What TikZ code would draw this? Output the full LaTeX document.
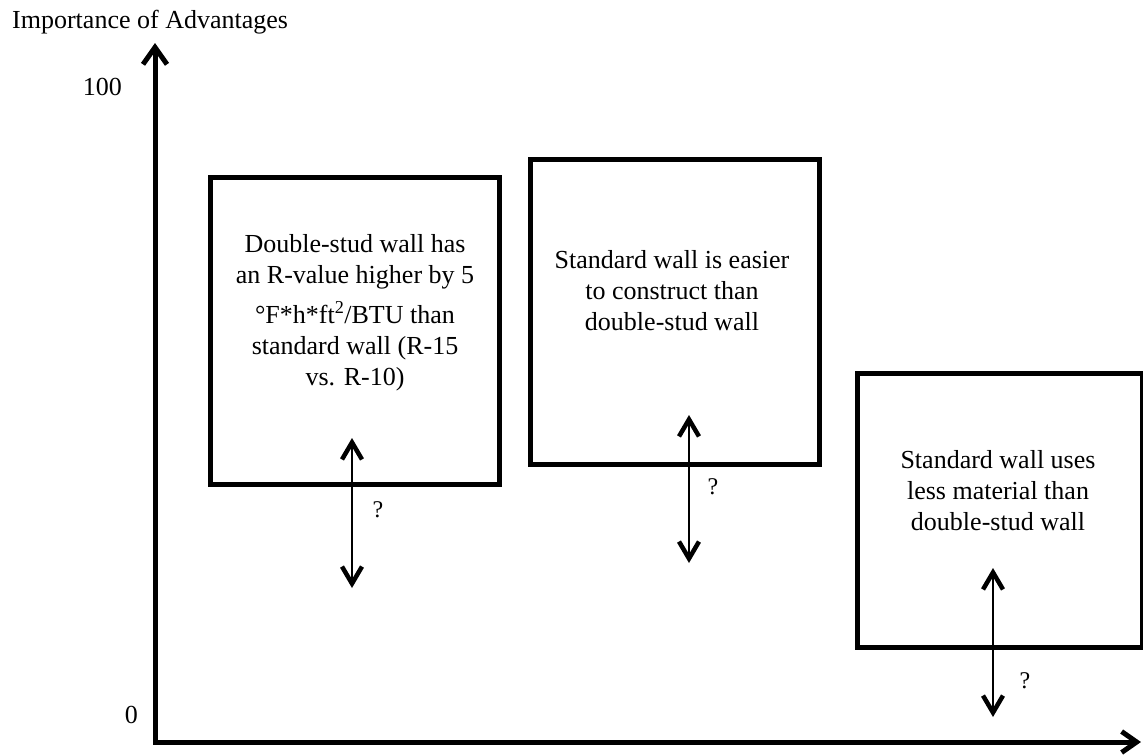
\documentclass[tikz,border=0pt]{standalone}
\usepackage{fontspec}
\setmainfont{Liberation Serif}
\usetikzlibrary{arrows.meta}
\tikzset{
  lbl/.style={inner sep=0pt, font=\fontsize{26}{31}\selectfont},
  boxtext/.style={inner sep=0pt, align=center, font=\fontsize{26}{31}\selectfont},
  wallbox/.style={draw, line width=5pt, inner sep=0pt, anchor=north west},
  axisline/.style={line width=5pt, line join=miter, {Straight Barb[length=17pt,width=24pt,line width=5pt]}-{Straight Barb[length=15pt,width=21pt,line width=5pt]}},
  dblarrow/.style={line width=2.7pt, {Straight Barb[length=17pt,width=20pt,line width=4.5pt]}-{Straight Barb[length=17pt,width=20pt,line width=4.5pt]}},
  qmark/.style={inner sep=0pt, font=\fontsize{24}{28}\selectfont}
}
\begin{document}
\begin{tikzpicture}[x=1pt,y=-1pt]
\useasboundingbox (0,0) rectangle (1143,755);
% labels
\node[lbl, anchor=base west] (title) at (12,28) {Importance of Advantages};
\node[lbl, anchor=base east] (hundred) at (122,95) {100};
\node[lbl, anchor=base east] (zero) at (138,723) {0};
% axes
\coordinate (orig) at (155,742);
\coordinate (ytip) at (155,43);
\coordinate (xtip) at (1141,742);
\draw[axisline] (ytip) -- (orig) -- (xtip);
% boxes
\node[wallbox, minimum width=289pt, minimum height=307pt] (b1) at (208,175) {};
\node[wallbox, minimum width=289pt, minimum height=305pt] (b2) at (528,157) {};
\node[wallbox, minimum width=285pt, minimum height=274pt] (b3) at (855,371) {};
% box texts (anchored at the baseline of the last line)
\node[boxtext, anchor=base] (t1) at (355,385) {Double-stud wall has\\
an R-value higher by 5\\[9pt]
\textdegree F*h*ft\textsuperscript{2}/BTU than\\
standard wall (R-15\\
vs. R-10)};
\node[boxtext, anchor=base] (t2) at (672,330) {Standard wall is easier\\
to construct than\\
double-stud wall};
\node[boxtext, anchor=base] (t3) at (998,530) {Standard wall uses\\
less material than\\
double-stud wall};
% double arrows
\coordinate (a1t) at (352,438);
\coordinate (a1b) at (352,588);
\coordinate (a2t) at (689,415);
\coordinate (a2b) at (689,563);
\coordinate (a3t) at (993,568);
\coordinate (a3b) at (993,717);
\draw[dblarrow] (a1t) -- (a1b);
\draw[dblarrow] (a2t) -- (a2b);
\draw[dblarrow] (a3t) -- (a3b);
\node[qmark] (q1) at (378,510) {?};
\node[qmark] (q2) at (713,487) {?};
\node[qmark] (q3) at (1025,681) {?};
\end{tikzpicture}
\end{document}
